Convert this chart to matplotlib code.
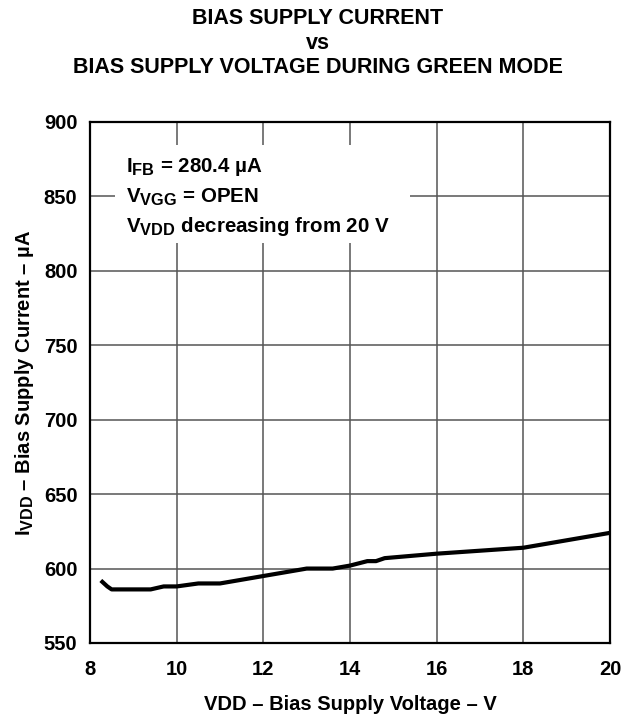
"""Bias supply current vs bias supply voltage during green mode."""

import matplotlib

matplotlib.use("Agg")

import matplotlib._mathtext as mathtext_core  # noqa: E402
import matplotlib.pyplot as plt  # noqa: E402
from matplotlib.patches import Rectangle  # noqa: E402

# curve
vdd_volts = [8.25, 8.4, 8.5, 9.0, 9.4, 9.7, 10.0, 10.5, 11.0, 12.0, 13.0, 13.6,
             14.0, 14.4, 14.6, 14.8, 16.0, 17.0, 18.0, 19.0, 20.0]
ivdd_ua = [592, 588, 586, 586, 586, 588, 588, 590, 590, 595, 600, 600,
           602, 605, 605, 607, 610, 612, 614, 619, 624]

x_ticks = [8, 10, 12, 14, 16, 18, 20]
y_ticks = [550, 600, 650, 700, 750, 800, 850, 900]

title_lines = ["BIAS SUPPLY CURRENT", "vs", "BIAS SUPPLY VOLTAGE DURING GREEN MODE"]
note_lines = ["I$_{FB}$ = 280.4 µA", "V$_{VGG}$ = OPEN", "V$_{VDD}$ decreasing from 20 V"]

plt.rcParams["font.family"] = ["Liberation Sans", "DejaVu Sans"]
plt.rcParams["font.weight"] = "bold"
plt.rcParams["mathtext.fontset"] = "custom"
plt.rcParams["mathtext.rm"] = "Liberation Sans:bold"
plt.rcParams["mathtext.it"] = "Liberation Sans:bold"
plt.rcParams["mathtext.bf"] = "Liberation Sans:bold"
plt.rcParams["mathtext.default"] = "rm"
# datasheet subscripts are a bit larger than mathtext's default 70 %
mathtext_core.SHRINK_FACTOR = 0.8

FS = 14.5

fig = plt.figure(figsize=(6.35, 7.15), dpi=100)
ax = fig.add_axes([0.1417, 0.1007, 0.819, 0.7287])

ax.plot(vdd_volts, ivdd_ua, color="black", linewidth=3, solid_capstyle="butt", zorder=3)

ax.set_xlim(8, 20)
ax.set_ylim(550, 900)
ax.set_xticks(x_ticks)
ax.set_yticks(y_ticks)
ax.tick_params(length=0, labelsize=FS)
ax.tick_params(axis="x", pad=12)
ax.tick_params(axis="y", pad=9)
for lab in ax.get_xticklabels() + ax.get_yticklabels():
    lab.set_fontweight("bold")
ax.grid(True, color="#555555", linewidth=1.1)
ax.set_axisbelow(True)
for sp in ax.spines.values():
    sp.set_linewidth(1.6)
    sp.set_color("black")
    sp.set_zorder(4)

ax.set_xlabel("VDD – Bias Supply Voltage – V", fontsize=FS, fontweight="bold", labelpad=12)
ax.set_ylabel("I$_{VDD}$ – Bias Supply Current – µA", fontsize=FS,
              fontweight="bold", labelpad=6)

for line, yb in zip(title_lines, [0.9664, 0.932, 0.898]):
    fig.text(0.5, yb, line, ha="center", va="baseline", fontsize=15.5, fontweight="bold")

# white panel behind the test conditions, hiding the grid
ax.add_patch(Rectangle((0.048, 0.768), 0.567, 0.188, transform=ax.transAxes,
                       facecolor="white", edgecolor="none", zorder=1))
for line, yb in zip(note_lines, [0.904, 0.8445, 0.789]):
    ax.text(0.069, yb, line, transform=ax.transAxes, ha="left", va="baseline",
            fontsize=14.8, fontweight="bold", zorder=2)

fig.savefig("out.png", dpi=100)
